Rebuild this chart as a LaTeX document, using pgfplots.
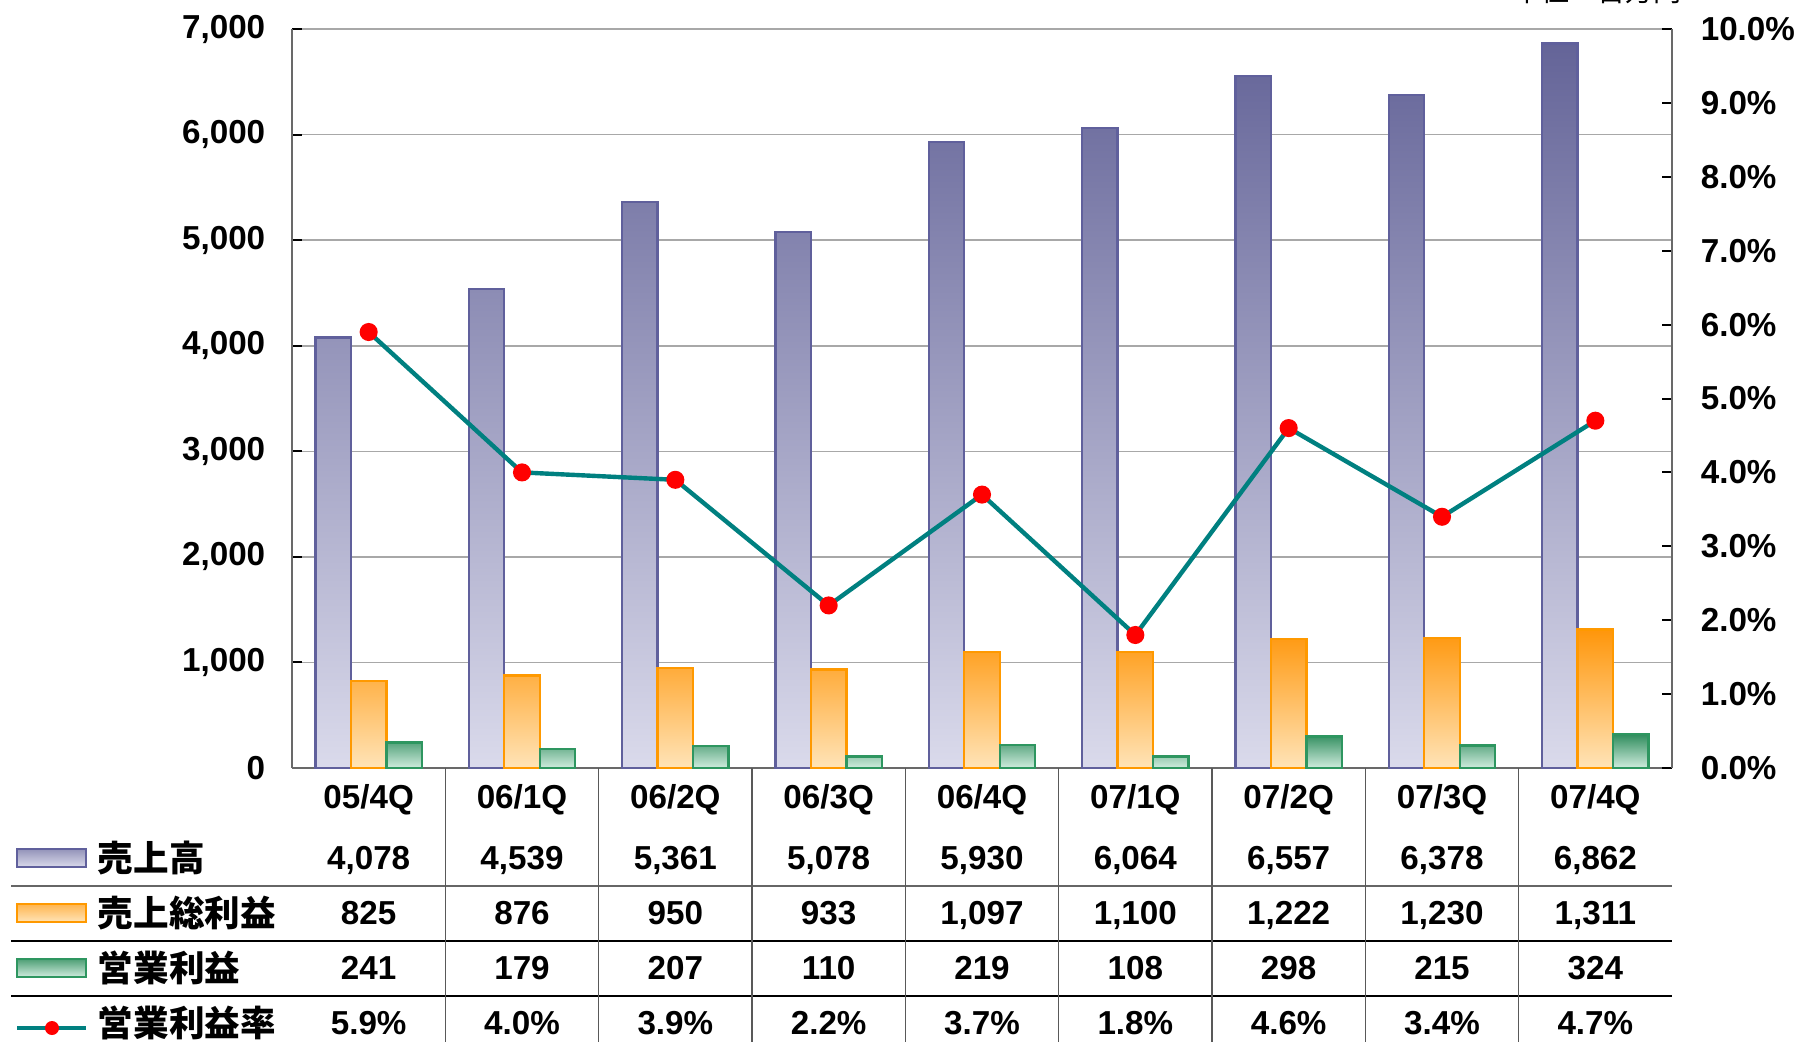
\documentclass[border=0pt]{standalone}
\usepackage{fontspec}
\setmainfont{Liberation Sans}
\newfontfamily\jp{Noto Sans CJK JP}
\usepackage{pgfplots}
\pgfplotsset{compat=1.18}

\definecolor{purpTop}{RGB}{100,100,152}
\definecolor{purpBot}{RGB}{218,218,235}
\definecolor{purpEdge}{RGB}{96,96,156}
\definecolor{orgTop}{RGB}{255,150,10}
\definecolor{orgBot}{RGB}{255,228,184}
\definecolor{orgEdge}{RGB}{255,153,0}
\definecolor{grnTop}{RGB}{46,140,92}
\definecolor{grnBot}{RGB}{208,236,222}
\definecolor{grnEdge}{RGB}{46,150,96}
\definecolor{lineTeal}{RGB}{0,128,128}
\definecolor{gridGray}{RGB}{168,168,168}
\definecolor{axGray}{RGB}{105,105,105}

\newcommand{\tabfont}{\fontsize{8.3}{9}\selectfont\bfseries}
\newcommand{\jpfont}{\jp\fontsize{8.9}{9}\selectfont\bfseries}

\begin{document}
\begin{tikzpicture}
% bars, left axis
\begin{axis}[
  at={(73pt,-192pt)}, anchor=south west,
  scale only axis, width=345pt, height=184.75pt,
  xmin=-0.5, xmax=8.5, ymin=0, ymax=7000,
  ybar=0pt, bar width=8.875pt,
  axis x line*=bottom, axis y line*=left,
  axis line style={-, draw=axGray},
  xtick=\empty,
  ytick={0,1000,...,7000},
  tick align=inside, major tick length=2.5pt,
  tick style={draw=black, line width=0.5pt},
  ymajorgrids, grid style={draw=gridGray, line width=0.4pt},
  /pgf/number format/assume math mode=true,
  /pgf/number format/1000 sep={,},
  yticklabel style={font=\tabfont, inner sep=0pt, xshift=-6.5pt},
]
\addplot[draw=purpEdge, line width=0.6pt, top color=purpTop, bottom color=purpBot]
  coordinates {(0,4078) (1,4539) (2,5361) (3,5078) (4,5930) (5,6064) (6,6557) (7,6378) (8,6862)};
\addplot[draw=orgEdge, line width=0.6pt, top color=orgTop, bottom color=orgBot]
  coordinates {(0,825) (1,876) (2,950) (3,933) (4,1097) (5,1100) (6,1222) (7,1230) (8,1311)};
\addplot[draw=grnEdge, line width=0.6pt, top color=grnTop, bottom color=grnBot]
  coordinates {(0,241) (1,179) (2,207) (3,110) (4,219) (5,108) (6,298) (7,215) (8,324)};
\end{axis}
% margin line, right axis
\begin{axis}[
  at={(73pt,-192pt)}, anchor=south west,
  scale only axis, width=345pt, height=184.75pt,
  xmin=-0.5, xmax=8.5, ymin=0, ymax=10,
  axis x line=none, axis y line*=right,
  axis line style={-, draw=axGray},
  ytick={0,1,...,10},
  tick align=inside, major tick length=2.5pt,
  tick style={draw=black, line width=0.5pt},
  /pgf/number format/assume math mode=true,
  yticklabel={\pgfmathprintnumber[fixed,fixed zerofill,precision=1]{\tick}\%},
  yticklabel style={font=\tabfont, inner sep=0pt, xshift=7pt},
]
\addplot[lineTeal, line width=1.1pt, mark=*, mark size=1.7pt,
  mark options={draw=red, fill=red}]
  coordinates {(0,5.9) (1,4.0) (2,3.9) (3,2.2) (4,3.7) (5,1.8) (6,4.6) (7,3.4) (8,4.7)};
\end{axis}

\begin{scope}[x=0.25pt,y=-0.25pt]
% data table
\draw[gray!80!black, line width=0.7pt] (11,886) -- (1672,886);
\draw[black, line width=0.4pt] (11,941) -- (1672,941);
\draw[black, line width=0.4pt] (11,996) -- (1672,996);
\foreach \k in {1,...,8}
  \draw[gray!70!black, line width=0.4pt] ({292+\k*153.333},768) -- ({292+\k*153.333},1042);

\foreach \v [count=\i from 0] in {05/4Q,06/1Q,06/2Q,06/3Q,06/4Q,07/1Q,07/2Q,07/3Q,07/4Q}
  \node[anchor=base, inner sep=0pt] at ({292+(\i+0.5)*153.333},808.5) {\tabfont \v};
\foreach \v [count=\i from 0] in {{4,078},{4,539},{5,361},{5,078},{5,930},{6,064},{6,557},{6,378},{6,862}}
  \node[anchor=base, inner sep=0pt] at ({292+(\i+0.5)*153.333},869.5) {\tabfont \v};
\foreach \v [count=\i from 0] in {825,876,950,933,{1,097},{1,100},{1,222},{1,230},{1,311}}
  \node[anchor=base, inner sep=0pt] at ({292+(\i+0.5)*153.333},924.5) {\tabfont \v};
\foreach \v [count=\i from 0] in {241,179,207,110,219,108,298,215,324}
  \node[anchor=base, inner sep=0pt] at ({292+(\i+0.5)*153.333},979.5) {\tabfont \v};
\foreach \v [count=\i from 0] in {5.9,4.0,3.9,2.2,3.7,1.8,4.6,3.4,4.7}
  \node[anchor=base, inner sep=0pt] at ({292+(\i+0.5)*153.333},1034.5) {\tabfont \v\%};

% legend keys
\draw[purpEdge, line width=0.6pt, top color=purpTop!60!purpBot, bottom color=purpBot] (17,849) rectangle (86,867);
\draw[orgEdge, line width=0.6pt, top color=orgTop!60!orgBot, bottom color=orgBot] (17,904) rectangle (86,922);
\draw[grnEdge, line width=0.6pt, top color=grnTop!80!grnBot, bottom color=grnBot] (17,959) rectangle (86,977);
\draw[lineTeal, line width=1.1pt] (17,1028) -- (86,1028);
\fill[red] (52,1028) circle (7);
\node[anchor=base west, inner sep=0pt] at (97,871) {\jpfont 売上高};
\node[anchor=base west, inner sep=0pt] at (97,926) {\jpfont 売上総利益};
\node[anchor=base west, inner sep=0pt] at (97,981) {\jpfont 営業利益};
\node[anchor=base west, inner sep=0pt] at (97,1036) {\jpfont 営業利益率};

% unit note, cut off at the top edge
\node[anchor=base east, inner sep=0pt] at (1682,1) {\jp\fontsize{7}{8}\selectfont 単位：百万円};

\pgfresetboundingbox
\useasboundingbox (0,0) rectangle (1798,1042);
\end{scope}
\end{tikzpicture}
\end{document}
